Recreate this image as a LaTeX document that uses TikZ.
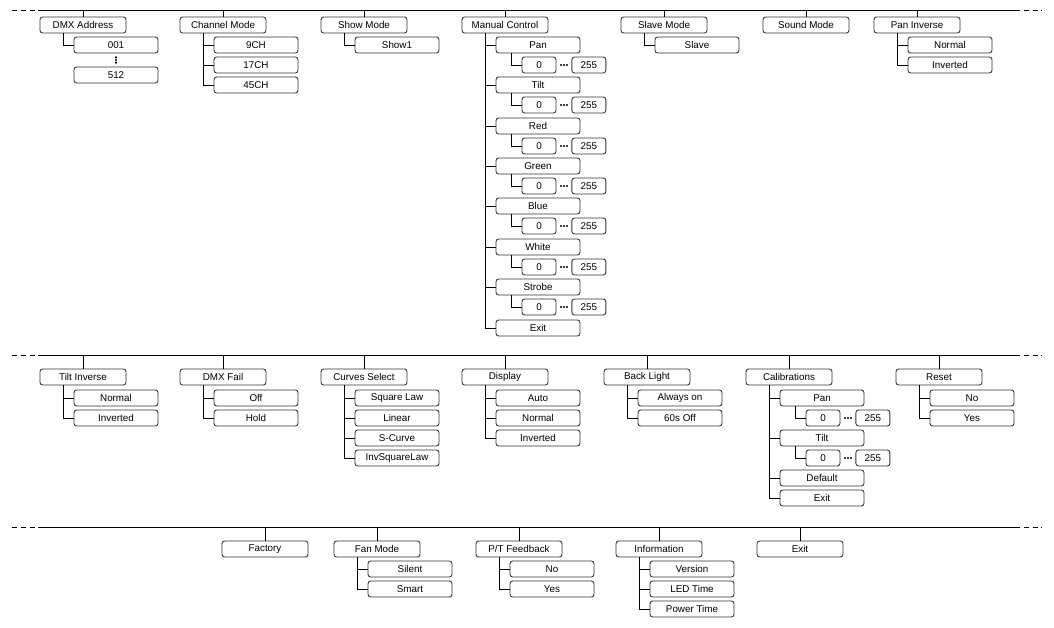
\documentclass[tikz,border=0pt]{standalone}
\usepackage{fontspec}
\setmainfont{Liberation Sans}
\usetikzlibrary{positioning,calc}
\tikzstyle{hdr}=[draw=black!80, rounded corners=1.5pt, minimum width=1.72cm, minimum height=0.32cm, inner sep=0pt, font=\fontsize{5.6}{6}\selectfont]
\tikzstyle{item}=[hdr, minimum width=1.68cm, anchor=west]
\tikzstyle{val}=[hdr, minimum width=0.68cm, anchor=west]
\tikzstyle{dot}=[circle, fill, inner sep=0pt, minimum size=1.3pt]
\begin{document}
\begin{tikzpicture}[x=0.02cm,y=-0.02cm,line width=0.5pt]
\useasboundingbox (0,0) rectangle (1054,628);
% rails
\foreach \r/\y in {ra/10,rb/355,rc/527}{
  \coordinate (\r1) at (12,\y);
  \coordinate (\r2) at (40,\y);
  \coordinate (\r3) at (1015,\y);
  \coordinate (\r4) at (1042,\y);
  \draw[dash pattern=on 3pt off 2pt] (\r1) -- (\r2);
  \draw (\r2) -- (\r3);
  \draw[dash pattern=on 3pt off 2pt] (\r3) -- (\r4);
}
% headers
\foreach \n/\x/\y/\r/\t in {dmx/40/25/ra/DMX Address, chmode/180/25/ra/Channel Mode, show/321/25/ra/Show Mode,
  manual/462/25/ra/Manual Control, slave/621/25/ra/Slave Mode, sound/763/25/ra/Sound Mode, paninv/874/25/ra/Pan Inverse,
  tiltinv/40/377/rb/Tilt Inverse, dmxfail/180/377/rb/DMX Fail, curves/321/377/rb/Curves Select, display/462/377/rb/Display,
  backlight/604/377/rb/Back Light, calib/746/377/rb/Calibrations, reset/896/377/rb/Reset,
  factory/222/549/rc/Factory, fan/334/549/rc/Fan Mode, ptfb/476/549/rc/{P/T Feedback}, info/616/549/rc/Information, exit/757/549/rc/Exit}{
  \node[hdr] (\n) at (\x+43,\y) {\t};
  \draw (\n.north) -- (\n.north |- \r2);
}
% children
\foreach \p/\n/\t/\y in {dmx/d001/001/45, chmode/ch9/9CH/45, chmode/ch17/17CH/65, chmode/ch45/45CH/85,
  show/show1/Show1/45, slave/slv/Slave/45, paninv/pnorm/Normal/45, paninv/pinv/Inverted/65,
  manual/mcpan/Pan/45, manual/mctilt/Tilt/85, manual/mcred/Red/126, manual/mcgreen/Green/166,
  manual/mcblue/Blue/206, manual/mcwhite/White/247, manual/mcstrobe/Strobe/287, manual/mcexit/Exit/328,
  tiltinv/tnorm/Normal/398, tiltinv/tinv/Inverted/418, dmxfail/off/Off/398, dmxfail/hold/Hold/418,
  curves/sq/Square Law/398, curves/lin/Linear/418, curves/scurve/S-Curve/438, curves/isq/InvSquareLaw/458,
  display/auto/Auto/398, display/dnorm/Normal/418, display/dinv/Inverted/438,
  backlight/alw/Always on/398, backlight/s60/60s Off/418,
  calib/calpan/Pan/398, calib/caltilt/Tilt/438, calib/default/Default/478, calib/calexit/Exit/498,
  reset/no/No/398, reset/yes/Yes/418,
  fan/silent/Silent/569, fan/smart/Smart/589, ptfb/pno/No/569, ptfb/pyes/Yes/589,
  info/ver/Version/569, info/led/LED Time/589, info/pwr/Power Time/609}{
  \node[item] (\n) at ($(\p.west |- 0,\y)+(34,0)$) {\t};
  \draw ($(\p.south west)+(24,0)$) |- (\n.west);
}
\node[item] (d512) at ($(d001.west)+(0,30)$) {512};
\foreach \k in {0.3,0.5,0.7}
  \node[dot] at ($(d001.south)!\k!(d512.north)$) {};
% value ranges
\foreach \n in {mcpan,mctilt,mcred,mcgreen,mcblue,mcwhite,mcstrobe,calpan,caltilt}{
  \node[val] (\n0) at ($(\n.west)+(26,20)$) {0};
  \node[val] (\n255) at ($(\n0.east)+(15,0)$) {255};
  \foreach \k in {0.3,0.5,0.7}
    \node[dot] at ($(\n0.east)!\k!(\n255.west)$) {};
  \draw ($(\n.south west)+(16,0)$) |- (\n0.west);
}
\end{tikzpicture}
\end{document}
